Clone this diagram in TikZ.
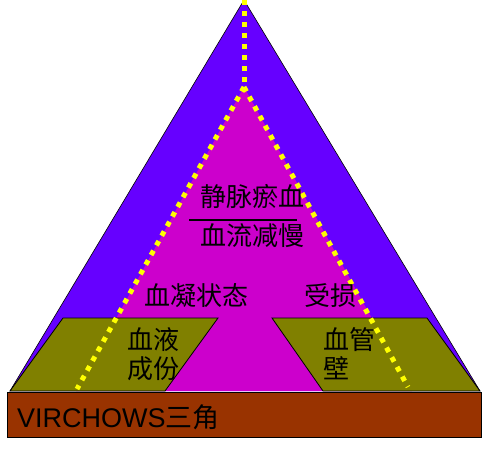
\documentclass[tikz,border=0pt]{standalone}
\usepackage{fontspec}
\setmainfont{Liberation Sans}
\newfontfamily\cjk{Noto Sans CJK SC}
\definecolor{violetbg}{HTML}{6600FF}
\definecolor{magentain}{HTML}{CC00CC}
\definecolor{olivebox}{HTML}{808000}
\definecolor{brownbar}{HTML}{993300}
\definecolor{dotyellow}{HTML}{FFFF00}
\begin{document}
\begin{tikzpicture}[x=1pt,y=-1pt,
  lbl/.style={inner sep=0pt,font=\fontsize{26}{30}\selectfont\cjk},
  dotline/.style={dotyellow,line width=5pt,dash pattern=on 5pt off 6pt},
  outl/.style={draw=black,line width=0.8pt}]
\useasboundingbox (0,0) rectangle (482,448);
% coordinates
\coordinate (apex) at (244,0);
\coordinate (bl) at (10,391);
\coordinate (br) at (480,391);
\coordinate (iapex) at (244,87);
\coordinate (ibl) at (76,391);
\coordinate (ibr) at (412,391);
% outer triangle
\fill[violetbg] (apex) -- (br) -- (bl) -- cycle;
\draw[black,line width=0.6pt] (bl) -- (apex) -- (br);
% inner triangle
\fill[magentain] (iapex) -- (ibr) -- (ibl) -- cycle;
% parallelograms
\filldraw[fill=olivebox,outl] (10,391) -- (165,391) -- (218,318) -- (63,318) -- cycle;
\filldraw[fill=olivebox,outl] (323,391) -- (480,391) -- (427,318) -- (272,318) -- cycle;
% base bar
\filldraw[fill=brownbar,outl] (7,392) rectangle (481,437);
% yellow dotted lines
\coordinate (dl) at (77,389);
\coordinate (dr) at (408,387);
\draw[dotline] (apex) -- (iapex);
\draw[dotline] (iapex) -- (dl);
\draw[dotline] (iapex) -- (dr);
% texts
\node[lbl,anchor=base] (t1) at (252,206) {静脉瘀血};
\node[lbl,anchor=base] (t2) at (252,245) {血流减慢};
\draw[black,line width=2.5pt] (189,220) -- (297,220);
\node[lbl,anchor=base] (t3) at (196,305) {血凝状态};
\node[lbl,anchor=base] (t4) at (330,305) {受损};
\node[lbl,anchor=base west] (t5) at (127,349) {血液};
\node[lbl,anchor=base west] (t6) at (127,378) {成份};
\node[lbl,anchor=base west] (t7) at (323,349) {血管};
\node[lbl,anchor=base west] (t8) at (323,378) {壁};
\node[inner sep=0pt,anchor=base west,font=\fontsize{27}{31}\selectfont] (t9) at (17,427) {VIRCHOWS{\cjk 三角}};
\end{tikzpicture}
\end{document}
